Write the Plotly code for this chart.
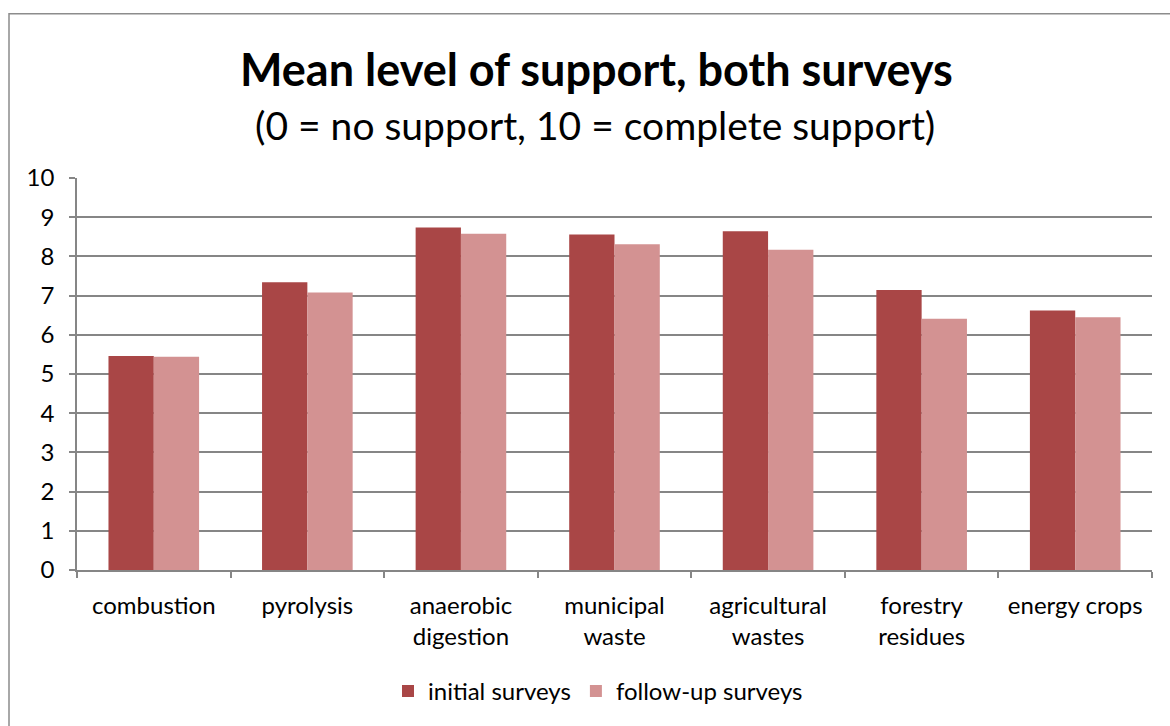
import plotly.graph_objects as go

categories = ["combustion", "pyrolysis", "anaerobic<br>digestion", "municipal<br>waste",
              "agricultural<br>wastes", "forestry<br>residues", "energy crops"]
initial = [5.46, 7.34, 8.74, 8.56, 8.64, 7.14, 6.62]
follow_up = [5.44, 7.08, 8.58, 8.31, 8.17, 6.41, 6.45]
y_ticks = list(range(0, 11))

FONT = "Lato"
W, H = 1170, 726
L, R, T, B = 77, 18, 178, 154
pw, ph = W - L - R, H - T - B

def px(x):
    return (x - L) / pw

def py(y):
    return (H - B - y) / ph

fig = go.Figure()
fig.add_trace(go.Bar(x=categories, y=initial, name="initial surveys",
                     marker=dict(color="#A94646", line=dict(width=0))))
fig.add_trace(go.Bar(x=categories, y=follow_up, name="follow-up surveys",
                     marker=dict(color="#D39292", line=dict(width=0))))

fig.update_layout(
    width=W, height=H,
    margin=dict(l=L, r=R, t=T, b=B),
    paper_bgcolor="white", plot_bgcolor="white",
    font=dict(family=FONT, size=24, color="#000000"),
    barmode="group", bargap=0.41, bargroupgap=0,
    showlegend=True,
    legend=dict(orientation="h", x=px(598), xanchor="center", y=py(694), yanchor="middle",
                font=dict(size=24), traceorder="normal", itemwidth=30),
    xaxis=dict(showline=True, linecolor="#868686", linewidth=1.5, ticks="outside",
               tickson="boundaries", ticklen=6, tickcolor="#868686", tickwidth=1.5,
               showgrid=False, tickfont=dict(size=24), ticklabelstandoff=13),
    yaxis=dict(range=[0, 10], tickvals=y_ticks, showline=True, linecolor="#868686",
               linewidth=1.5, ticks="outside", ticklen=6, tickcolor="#868686", tickwidth=1.5,
               showgrid=True, gridcolor="#868686", gridwidth=1.5, zeroline=False,
               tickfont=dict(size=24), ticklabelstandoff=10),
    shapes=[dict(type="rect", xref="paper", yref="paper",
                 x0=px(9), x1=px(1190), y0=py(760), y1=py(13),
                 line=dict(color="#8C8C8C", width=1.5), fillcolor="rgba(0,0,0,0)", layer="below")],
    annotations=[
        dict(text="<b>Mean level of support, both surveys</b>", xref="paper", yref="paper",
             x=px(596), y=py(68), xanchor="center", yanchor="middle", showarrow=False,
             font=dict(size=45, family=FONT)),
        dict(text="(0 = no support, 10 = complete support)", xref="paper", yref="paper",
             x=px(595), y=py(125), xanchor="center", yanchor="middle", showarrow=False,
             font=dict(size=39, family=FONT)),
    ],
)

fig.write_html("out.html")
